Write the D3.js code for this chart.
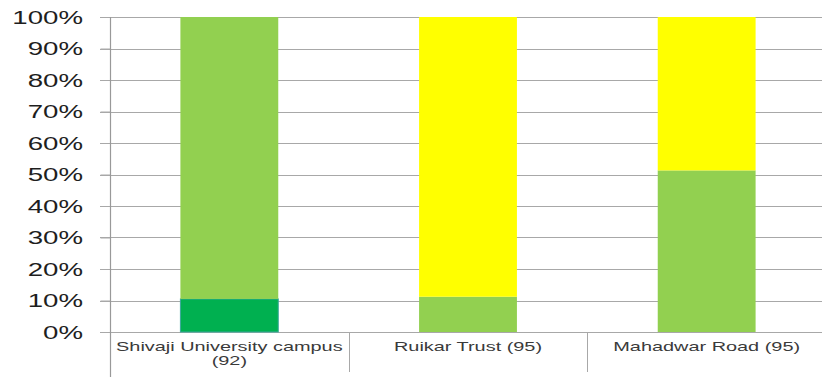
<!DOCTYPE html>
<html>
<head>
<meta charset="utf-8">
<script src="https://cdn.jsdelivr.net/npm/d3@7"></script>
<style>
  html, body { margin: 0; padding: 0; background: #fff; }
  svg { display: block; font-family: "Liberation Sans", Arial, sans-serif; }
</style>
</head>
<body>
<svg id="chart" width="822" height="377"></svg>
<script>
// ---- data ----
const categories = ["Shivaji University campus (92)", "Ruikar Trust (95)", "Mahadwar Road (95)"];
const categoryLines = [["Shivaji University campus", "(92)"], ["Ruikar Trust (95)"], ["Mahadwar Road (95)"]];
const seriesNames = ["Dark green", "Light green", "Yellow"];
const darkGreenValues = [10.5, 0, 0];
const lightGreenValues = [89.5, 11.2, 51.3];
const yellowValues = [0, 88.8, 48.7];
const seriesColors = ["#00B050", "#92D050", "#FFFF00"];
const yTicks = [0, 10, 20, 30, 40, 50, 60, 70, 80, 90, 100];
const yTickLabels = yTicks.map(v => v + "%");

// ---- layout ----
const svg = d3.select("#chart");
const axisX = 110, plotTop = 17, plotBottom = 332, plotRight = 826;
const stretch = 1.58;

const x = d3.scaleBand().domain(categories).range([axisX, plotRight]).padding(0);
const y = d3.scaleLinear().domain([0, 100]).range([plotBottom, plotTop]);

// gridlines
svg.append("g").selectAll("line").data(yTicks).join("line")
  .attr("x1", 100).attr("x2", 822)
  .attr("y1", d => Math.round(y(d)) + 0.5).attr("y2", d => Math.round(y(d)) + 0.5)
  .attr("stroke", "#a8a8a8").attr("stroke-width", 1);

// stacked bars
const rows = categories.map((c, i) => ({
  cat: c,
  [seriesNames[0]]: darkGreenValues[i],
  [seriesNames[1]]: lightGreenValues[i],
  [seriesNames[2]]: yellowValues[i]
}));
const stacked = d3.stack().keys(seriesNames)(rows);
const barW = x.bandwidth() * 0.41;

svg.append("g").selectAll("g").data(stacked).join("g")
  .attr("fill", (d, i) => seriesColors[i])
  .attr("stroke", (d, i) => i === 0 ? "#3aa89a" : "none")
  .attr("stroke-width", 1)
  .selectAll("rect").data(d => d.filter(s => s[1] - s[0] > 0)).join("rect")
  .attr("x", d => x(d.data.cat) + (x.bandwidth() - barW) / 2)
  .attr("width", barW)
  .attr("y", d => y(d[1]))
  .attr("height", d => y(d[0]) - y(d[1]));

// y axis
const yAxis = d3.axisLeft(y).tickValues(yTicks).tickFormat((d, i) => yTickLabels[i]).tickSize(10).tickPadding(0);
const gy = svg.append("g").attr("transform", `translate(${axisX + 0.5},0)`).call(yAxis);
gy.select(".domain").remove();
gy.selectAll(".tick line").attr("stroke", "#a8a8a8");
gy.selectAll(".tick text")
  .attr("x", 0)
  .attr("transform", `translate(${83 - axisX - 0.5},0) scale(${stretch},1)`)
  .attr("dy", "0.36em")
  .attr("fill", "#1e1e1e")
  .style("font-size", "17.5px");

// axis line
svg.append("line")
  .attr("x1", axisX + 0.5).attr("x2", axisX + 0.5)
  .attr("y1", plotTop).attr("y2", 377)
  .attr("stroke", "#999").attr("stroke-width", 1.2);

// category dividers
svg.append("g").selectAll("line").data(categories.slice(1)).join("line")
  .attr("x1", d => Math.round(x(d)) + 0.5).attr("x2", d => Math.round(x(d)) + 0.5)
  .attr("y1", plotBottom).attr("y2", 372)
  .attr("stroke", "#a8a8a8");

// category labels (one text per line)
const labelData = [];
categoryLines.forEach((lines, i) => lines.forEach((t, j) => labelData.push({ cat: categories[i], text: t, line: j })));
svg.append("g").selectAll("text").data(labelData).join("text")
  .attr("transform", d => `translate(${x(d.cat) + x.bandwidth() / 2},${351 + d.line * 14}) scale(${stretch},1)`)
  .attr("text-anchor", "middle")
  .attr("fill", "#3a3a3a")
  .style("font-size", "12.6px")
  .text(d => d.text);
</script>
</body>
</html>
